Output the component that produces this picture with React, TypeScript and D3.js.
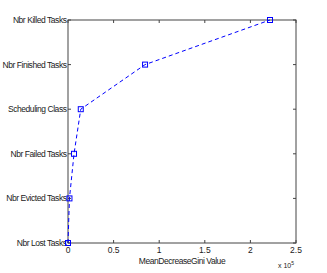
import React from "react";
import * as d3 from "d3";

const categories = ["Nbr Lost Tasks", "Nbr Evicted Tasks", "Nbr Failed Tasks", "Scheduling Class", "Nbr Finished Tasks", "Nbr Killed Tasks"];
const values = [0, 1600, 6600, 14000, 84500, 221500];
const xTicks = [0, 50000, 100000, 150000, 200000, 250000];
const xTickLabels = ["0", "0.5", "1", "1.5", "2", "2.5"];

export default function App() {
  const W = 327, H = 273;
  const left = 68, right = 296, top = 20, bottom = 243;
  const x = d3.scaleLinear().domain([0, 250000]).range([left, right]);
  const y = d3.scaleLinear().domain([0, categories.length - 1]).range([bottom, top]);
  const line = d3.line<number>().x((d) => x(d)).y((_, i) => y(i));
  const font = "'Liberation Sans', Arial, sans-serif";
  const blue = "#0000ff";
  return (
    <svg width={W} height={H} style={{ position: "absolute", left: 0, top: 0, background: "#fff" }}>
      <rect x={0} y={0} width={W} height={H} fill="#fff" />
      <rect x={left} y={top} width={right - left} height={bottom - top} fill="#fff" stroke="#444" strokeWidth={1} />
      {xTicks.map((t, i) => (
        <g key={i}>
          <line x1={x(t)} x2={x(t)} y1={bottom} y2={bottom - 3} stroke="#444" />
          <line x1={x(t)} x2={x(t)} y1={top} y2={top + 3} stroke="#444" />
          <text x={x(t)} y={bottom + 10} fontSize={8.5} fontFamily={font} textAnchor="middle" fill="#222">{xTickLabels[i]}</text>
        </g>
      ))}
      {categories.map((c, i) => (
        <g key={c}>
          <line x1={left} x2={left + 3} y1={y(i)} y2={y(i)} stroke="#444" />
          <line x1={right} x2={right - 3} y1={y(i)} y2={y(i)} stroke="#444" />
          <text x={left - 1.5} y={y(i) + 3} fontSize={8.5} fontFamily={font} letterSpacing={-0.45} textAnchor="end" fill="#222">{c}</text>
        </g>
      ))}
      <text x={(left + right) / 2} y={bottom + 21} fontSize={8.5} fontFamily={font} letterSpacing={-0.45} textAnchor="middle" fill="#222">MeanDecreaseGini Value</text>
      <text x={278} y={bottom + 25} fontSize={7} fontFamily={font} fill="#222">x 10<tspan dy={-3} fontSize={5}>5</tspan></text>
      <path d={line(values) || ""} fill="none" stroke={blue} strokeWidth={1} strokeDasharray="4,3" />
      {values.map((v, i) => (
        <rect key={i} x={x(v) - 2.5} y={y(i) - 2.5} width={5} height={5} fill="none" stroke={blue} strokeWidth={1} />
      ))}
    </svg>
  );
}
